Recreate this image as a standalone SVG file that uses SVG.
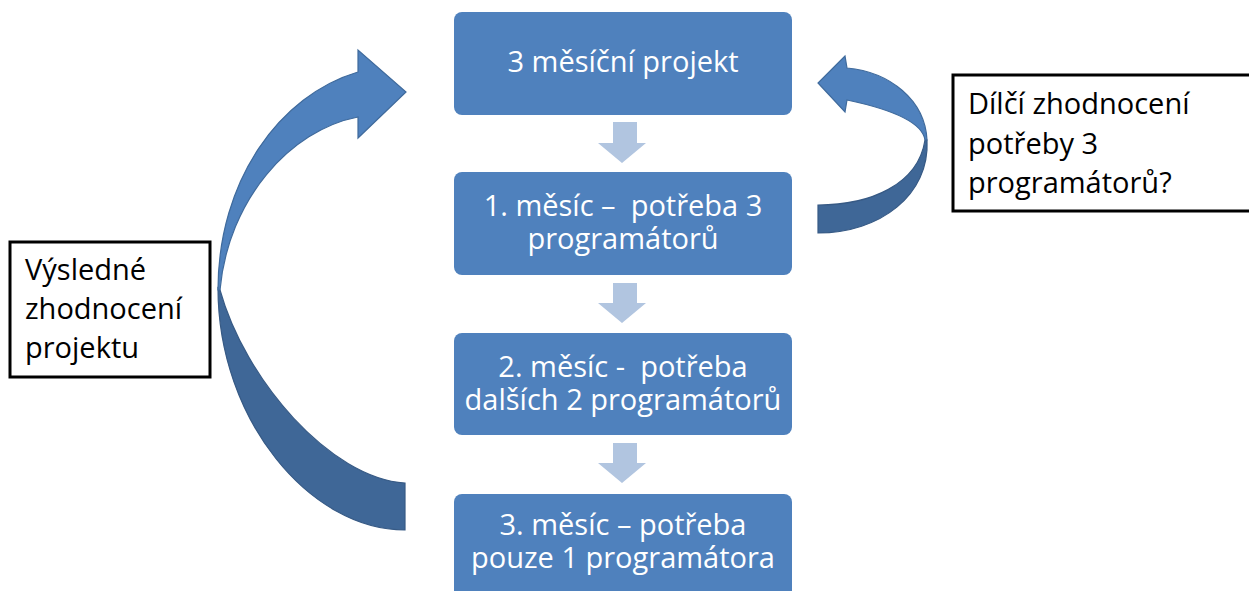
<svg xmlns="http://www.w3.org/2000/svg" width="1249" height="591" viewBox="0 0 1249 591">
<style>
.box{fill:#4f81bd;}
.bt{font-family:"Open Sans","Liberation Sans",sans-serif;font-size:29px;fill:#ffffff;text-anchor:middle;white-space:pre;}
.lt{font-family:"Open Sans","Liberation Sans",sans-serif;font-size:29px;fill:#000000;white-space:pre;}
.lbl{fill:#ffffff;stroke:#000000;stroke-width:3;}
.down{fill:#b1c5e0;}
.front{fill:#4f81bd;stroke:#3f6a9c;stroke-width:1.2;}
.back{fill:#3f6797;stroke:#375a85;stroke-width:1.2;}
</style>
<rect width="1249" height="591" fill="#ffffff"/>
<g id="connectors">
<path class="down" d="M613,122 H637 V143 H646 L622,163 L598,143 H613 Z"/>
<path class="down" d="M613,283 H637 V303 H646 L622,323 L598,303 H613 Z"/>
<path class="down" d="M613,443 H637 V463 H646 L622,483 L598,463 H613 Z"/>
<g id="loop-left">
<path class="back" d="M218,288 C218,420 310,530 405,530 L405,483 C330,478 245,380 220,290 Z"/>
<path class="front" d="M218,290 C218,180 280,95 358,72 L358,50 L406,92 L358,138 L358,117 C290,130 228,200 220,290 Z"/>
</g>
<g id="loop-right">
<path class="back" d="M927,140 C930,195 880,233 818,233 L818,205 C870,205 918,185 925,140 Z"/>
<path class="front" d="M927,140 C925,100 890,72 847,68 L845,56 L818,83 L845,112 L847,100 C885,108 922,120 925,140 Z"/>
</g>
</g>
<g id="node-project">
<rect class="box" x="454" y="12" width="338" height="103" rx="8"/>
<text class="bt" x="623" y="72">3 měsíční projekt</text>
</g>
<g id="node-month1">
<rect class="box" x="454" y="172" width="338" height="103" rx="8"/>
<text class="bt" x="623" y="216">1. měsíc –  potřeba 3</text>
<text class="bt" x="623" y="249">programátorů</text>
</g>
<g id="node-month2">
<rect class="box" x="454" y="333" width="338" height="102" rx="8"/>
<text class="bt" x="623" y="377">2. měsíc -  potřeba</text>
<text class="bt" x="623" y="410">dalších 2 programátorů</text>
</g>
<g id="node-month3">
<rect class="box" x="454" y="494" width="338" height="110" rx="8"/>
<text class="bt" x="623" y="535">3. měsíc – potřeba</text>
<text class="bt" x="623" y="568">pouze 1 programátora</text>
</g>
<g id="label-final">
<rect class="lbl" x="10" y="242" width="200" height="135"/>
<text class="lt" x="25" y="280">Výsledné</text>
<text class="lt" x="25" y="319">zhodnocení</text>
<text class="lt" x="25" y="358">projektu</text>
</g>
<g id="label-partial">
<rect class="lbl" x="953" y="75" width="300" height="136"/>
<text class="lt" x="968" y="114">Dílčí zhodnocení</text>
<text class="lt" x="968" y="154">potřeby 3</text>
<text class="lt" x="968" y="193">programátorů?</text>
</g>
</svg>
